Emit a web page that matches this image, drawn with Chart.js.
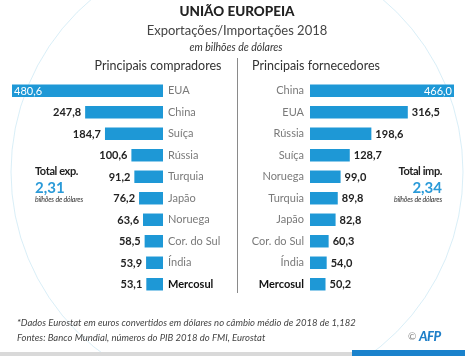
<!DOCTYPE html>
<html>
<head>
<meta charset="utf-8">
<script src="https://cdn.jsdelivr.net/npm/chart.js@4/dist/chart.umd.min.js"></script>
<style>
  html, body { margin: 0; padding: 0; background: #fff; }
  #wrap { position: relative; width: 465px; height: 356px; overflow: hidden; background: #fff; font-family: Lato, "Open Sans", sans-serif; }
  canvas { position: absolute; left: 0; top: 0; }
  .t { position: absolute; white-space: nowrap; line-height: 1; }
  .c { transform: translate(-50%, -50%); }
  .l { transform: translate(0, -50%); }
  .r { transform: translate(0, -50%); text-align: right; }
</style>
</head>
<body>
<div id="wrap">
  <canvas id="left" width="465" height="356"></canvas>
  <canvas id="right" width="465" height="356"></canvas>

  <div class="t c" style="left:237px; top:12px; font-size:13.5px; font-weight:900; color:#222;">UNIÃO EUROPEIA</div>
  <div class="t c" style="left:237px; top:30px; font-size:13px; color:#444;">Exportações/Importações 2018</div>
  <div class="t c" style="left:236px; top:47px; font-size:10.5px; font-style:italic; color:#333;">em bilhões de dólares</div>
  <div class="t c" style="left:158px; top:66px; font-size:12.5px; color:#333;">Principais compradores</div>
  <div class="t c" style="left:316px; top:66px; font-size:12.5px; color:#333;">Principais fornecedores</div>

  <div style="position:absolute; left:237px; top:58px; width:1px; height:235px; background:#8a8a8a;"></div>

  <div class="t l" style="left:35px; top:170px; font-size:11px; font-weight:bold; color:#222; letter-spacing:-0.4px;">Total exp.</div>
  <div class="t l" style="left:35px; top:187px; font-size:15px; font-weight:bold; color:#2a9ad8;">2,31</div>
  <div class="t l" style="left:35px; top:199px; font-size:7px; font-style:italic; color:#333; letter-spacing:-0.2px;">bilhões de dólares</div>

  <div class="t r" style="right:23px; top:170px; font-size:11px; font-weight:bold; color:#222; letter-spacing:-0.4px;">Total imp.</div>
  <div class="t r" style="right:23px; top:187px; font-size:15px; font-weight:bold; color:#2a9ad8;">2,34</div>
  <div class="t r" style="right:23px; top:199px; font-size:7px; font-style:italic; color:#333; letter-spacing:-0.2px;">bilhões de dólares</div>

  <div class="t l" style="left:17px; top:323px; font-size:9.5px; font-style:italic; color:#444;">*Dados Eurostat em euros convertidos em dólares no câmbio médio de 2018 de 1,182</div>
  <div class="t l" style="left:17px; top:338px; font-size:9.5px; font-style:italic; color:#444;">Fontes: Banco Mundial, números do PIB 2018 do FMI, Eurostat</div>
  <div class="t l" style="left:408px; top:336px; font-size:10px; color:#888;">©</div>
  <div class="t l" style="left:419px; top:336px; font-size:13px; font-weight:900; font-style:italic; color:#1f7fc8; letter-spacing:-0.5px;">AFP</div>

  <div style="position:absolute; left:0; top:352px; width:352px; height:4px; background:#d9d9d9;"></div>
  <div style="position:absolute; left:352px; top:350px; width:113px; height:6px; background:#1a82cc;"></div>
</div>

<script>
// ---- Data ----
const buyers = ["EUA", "China", "Suíça", "Rússia", "Turquia", "Japão", "Noruega", "Cor. do Sul", "Índia", "Mercosul"];
const exportsValues = [480.6, 247.8, 184.7, 100.6, 91.2, 76.2, 63.6, 58.5, 53.9, 53.1];
const suppliers = ["China", "EUA", "Rússia", "Suíça", "Noruega", "Turquia", "Japão", "Cor. do Sul", "Índia", "Mercosul"];
const importsValues = [466.0, 316.5, 198.6, 128.7, 99.0, 89.8, 82.8, 60.3, 54.0, 50.2];

const BLUE = "#1e98d6";
const fmt = v => v.toFixed(1).replace(".", ",");

const globePlugin = {
  id: "globe",
  beforeDraw(chart) {
    const ctx = chart.ctx;
    ctx.save();
    ctx.strokeStyle = "rgba(120,195,225,0.28)";
    ctx.lineWidth = 1;
    ctx.beginPath();
    ctx.arc(237, 172, 226, 0, Math.PI * 2);
    ctx.stroke();
    ctx.restore();
  }
};

function valueLabels(side) {
  return {
    id: "vals_" + side,
    afterDatasetsDraw(chart) {
      const ctx = chart.ctx;
      const meta = chart.getDatasetMeta(0);
      const data = chart.data.datasets[0].data;
      ctx.save();
      ctx.textBaseline = "middle";
      meta.data.forEach((bar, i) => {
        const txt = fmt(data[i]);
        if (i === 0) {
          ctx.font = "11px Lato";
          ctx.fillStyle = "#fff";
          if (side === "left") { ctx.textAlign = "left"; ctx.fillText(txt, bar.x + 2, bar.y + 0.5); }
          else { ctx.textAlign = "right"; ctx.fillText(txt, bar.x - 2, bar.y + 0.5); }
        } else {
          ctx.font = "bold 11px Lato";
          ctx.fillStyle = "#222";
          if (side === "left") { ctx.textAlign = "right"; ctx.fillText(txt, bar.x - 4, bar.y + 0.5); }
          else { ctx.textAlign = "left"; ctx.fillText(txt, bar.x + 4, bar.y + 0.5); }
        }
      });
      ctx.restore();
    }
  };
}

const tickFont = c => (c.index === 9 ? { family: "Lato", size: 11, weight: "bold" } : { family: "Lato", size: 11 });
const tickColor = c => (c.index === 9 ? "#111" : "#7a7a7a");

function makeChart(id, labels, values, side) {
  const LABW = side === "left" ? 70 : 80;
  const padding = side === "left"
    ? { left: 12, right: 465 - 163 - LABW, top: 80, bottom: 61 }
    : { left: 310 - LABW, right: 11, top: 80, bottom: 61 };
  return new Chart(document.getElementById(id), {
    type: "bar",
    data: {
      labels: labels,
      datasets: [{
        data: values,
        backgroundColor: BLUE,
        borderWidth: 0,
        categoryPercentage: 1,
        barPercentage: 0.58
      }]
    },
    options: {
      indexAxis: "y",
      responsive: false,
      animation: false,
      devicePixelRatio: 1,
      layout: { padding: padding },
      plugins: { legend: { display: false }, tooltip: { enabled: false }, title: { display: false } },
      scales: {
        x: {
          type: "linear",
          display: false,
          min: 0,
          max: values[0],
          reverse: side === "left"
        },
        y: {
          position: side === "left" ? "right" : "left",
          grid: { display: false, drawTicks: false },
          border: { display: false },
          ticks: {
            padding: side === "left" ? 5 : 6,
            font: tickFont,
            color: tickColor,
            autoSkip: false
          },
          afterFit(scale) { scale.width = LABW; }
        }
      }
    },
    plugins: side === "left" ? [globePlugin, valueLabels(side)] : [valueLabels(side)]
  });
}

makeChart("left", buyers, exportsValues, "left");
makeChart("right", suppliers, importsValues, "right");
</script>
</body>
</html>
